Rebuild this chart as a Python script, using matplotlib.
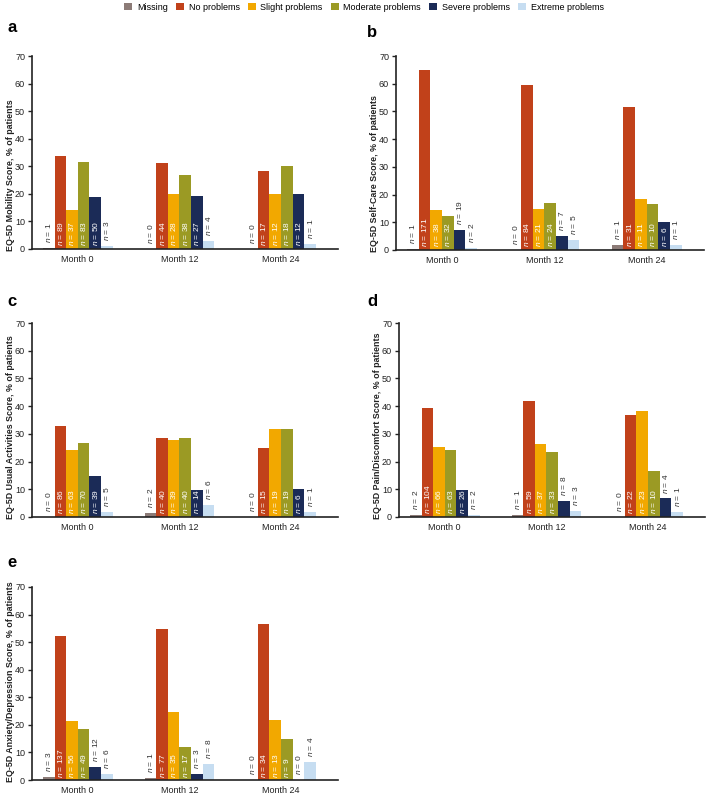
import matplotlib
matplotlib.use("Agg")
import matplotlib.pyplot as plt
from matplotlib.patches import Patch
import numpy as np

plt.rcParams['font.family'] = ['Liberation Sans', 'DejaVu Sans']
plt.rcParams['mathtext.fontset'] = 'custom'
plt.rcParams['mathtext.it'] = 'Liberation Sans:italic'
plt.rcParams['mathtext.rm'] = 'Liberation Sans'

months = ['Month 0', 'Month 12', 'Month 24']
categories = ['Missing', 'No problems', 'Slight problems', 'Moderate problems',
              'Severe problems', 'Extreme problems']
colors = ['#8C7B77', '#C1411A', '#F2A800', '#9B9A24', '#1B2B57', '#C6DDF1']

# percentages per month (rows) and category (columns)
mobility_pct = [[0.4, 33.8, 14.1, 31.6, 19.0, 1.1],
                [0.0, 31.2, 19.9, 27.0, 19.1, 2.8],
                [0.0, 28.3, 20.0, 30.0, 20.0, 1.7]]
mobility_n = [[1, 89, 37, 83, 50, 3], [0, 44, 28, 38, 27, 4], [0, 17, 12, 18, 12, 1]]

selfcare_pct = [[0.4, 65.0, 14.4, 12.2, 7.2, 0.8],
                [0.0, 59.6, 14.9, 17.0, 5.0, 3.5],
                [1.7, 51.7, 18.3, 16.7, 10.0, 1.7]]
selfcare_n = [[1, 171, 38, 32, 19, 2], [0, 84, 21, 24, 7, 5], [1, 31, 11, 10, 6, 1]]

usual_pct = [[0.0, 32.7, 24.0, 26.6, 14.8, 1.9],
             [1.4, 28.4, 27.7, 28.4, 9.9, 4.3],
             [0.0, 25.0, 31.7, 31.7, 10.0, 1.7]]
usual_n = [[0, 86, 63, 70, 39, 5], [2, 40, 39, 40, 14, 6], [0, 15, 19, 19, 6, 1]]

pain_pct = [[0.8, 39.5, 25.1, 24.0, 9.9, 0.8],
            [0.7, 41.8, 26.2, 23.4, 5.7, 2.1],
            [0.0, 36.7, 38.3, 16.7, 6.7, 1.7]]
pain_n = [[2, 104, 66, 63, 26, 2], [1, 59, 37, 33, 8, 3], [0, 22, 23, 10, 4, 1]]

anxiety_pct = [[1.1, 52.1, 21.3, 18.6, 4.6, 2.3],
               [0.7, 54.6, 24.8, 12.1, 2.1, 5.7],
               [0.0, 56.7, 21.7, 15.0, 0.0, 6.7]]
anxiety_n = [[3, 137, 56, 49, 12, 6], [1, 77, 35, 17, 3, 8], [0, 34, 13, 9, 0, 4]]

panels = [
    ('a', 'EQ-5D Mobility Score, % of patients', mobility_pct, mobility_n),
    ('b', 'EQ-5D Self-Care Score, % of patients', selfcare_pct, selfcare_n),
    ('c', 'EQ-5D Usual Activities Score, % of patients', usual_pct, usual_n),
    ('d', 'EQ-5D Pain/Discomfort Score, % of patients', pain_pct, pain_n),
    ('e', 'EQ-5D Anxiety/Depression Score, % of patients', anxiety_pct, anxiety_n),
]

W, H = 708, 798
fig = plt.figure(figsize=(W / 100, H / 100), dpi=100)

# axes boxes in pixels: left, right, top(70), bottom(0)
boxes = [(32, 338, 56, 249), (396, 704, 56, 250),
         (32, 338, 323, 517), (399, 705, 323, 517),
         (32, 338, 587, 780)]
letter_pos = [(7, 32), (367, 37), (7, 306), (367, 306), (7, 567)]

bw = 0.114
offsets = (np.arange(6) - 2.5) * bw
x = np.arange(len(months))

for (letter, ylab, pct, ns), (l, r, t, b), (lx, ly) in zip(panels, boxes, letter_pos):
    ax = fig.add_axes([l / W, 1 - b / H, (r - l) / W, (b - t) / H])
    pct = np.array(pct)
    ns = np.array(ns)
    for j in range(6):
        ax.bar(x + offsets[j], pct[:, j], width=bw, color=colors[j], linewidth=0)
        for i in range(len(months)):
            v = pct[i, j]
            label = f'$n$ = {ns[i, j]}'
            if v >= 9:
                ax.annotate(label, (x[i] + offsets[j], 0), xytext=(0, 1.8),
                            textcoords='offset points', rotation=90,
                            ha='center', va='bottom', fontsize=6, color='white')
            else:
                ax.annotate(label, (x[i] + offsets[j], v), xytext=(0, 3.5),
                            textcoords='offset points', rotation=90,
                            ha='center', va='bottom', fontsize=6, color='#333333')
    ax.set_xlim(-0.45, 2.56)
    ax.set_ylim(0, 70)
    ax.set_yticks(range(0, 71, 10))
    ax.set_xticks(x)
    ax.set_xticklabels(months, fontsize=6.5, color='#222222')
    ax.tick_params(axis='x', length=0, pad=4)
    ax.tick_params(axis='y', length=3, width=1, pad=2, labelsize=6.5, colors='#222222')
    for s in ['top', 'right']:
        ax.spines[s].set_visible(False)
    for s in ['left', 'bottom']:
        ax.spines[s].set_linewidth(1.2)
        ax.spines[s].set_color('#222222')
    ax.text(-0.07, -0.01, ylab, rotation=90, transform=ax.transAxes,
            ha='center', va='bottom', fontsize=6.4, fontweight='bold', color='#222222')
    fig.text(lx / W, 1 - ly / H, letter, fontsize=12, fontweight='bold',
             va='baseline', ha='left')

handles = [Patch(facecolor=c, edgecolor='none', label=cat) for c, cat in zip(colors, categories)]
fig.legend(handles=handles, loc='center', bbox_to_anchor=(0.514, 0.991), ncol=6,
           frameon=False, fontsize=6.5, handlelength=0.9, handleheight=0.9,
           columnspacing=0.9, handletextpad=0.5, borderaxespad=0, borderpad=0)

fig.savefig('out.png', dpi=100)
